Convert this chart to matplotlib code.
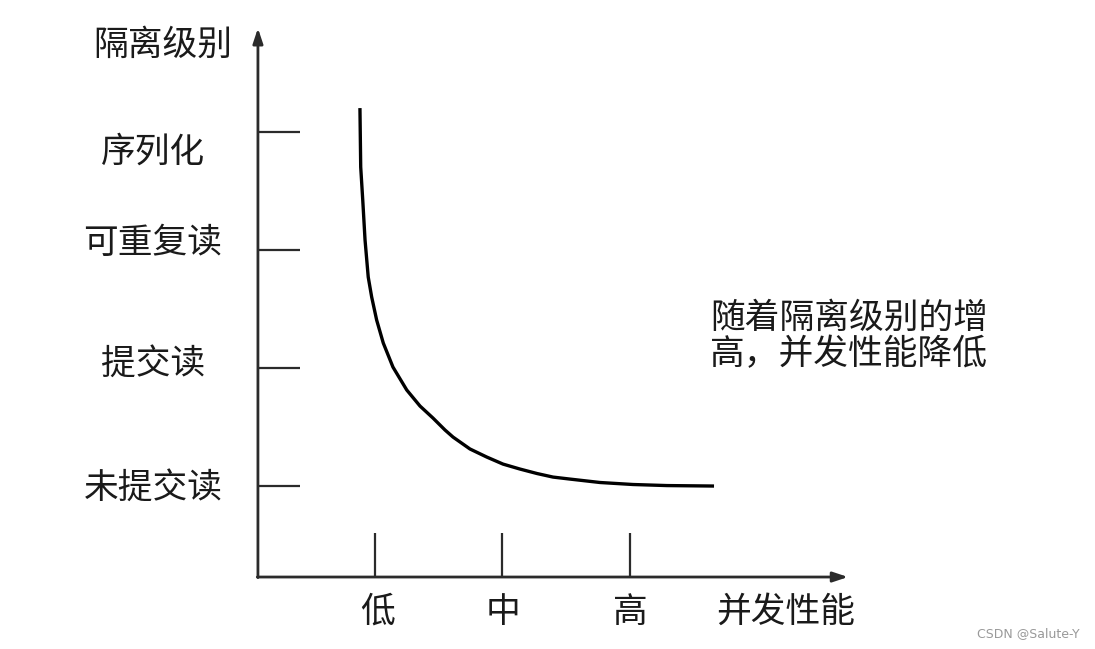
import matplotlib
matplotlib.use('Agg')
import matplotlib.pyplot as plt
import numpy as np

plt.rcParams['font.family'] = ['Noto Sans CJK SC', 'DejaVu Sans']

# ==================== 数据 ====================
# 横轴：并发性能（低=1, 中=2, 高=3）；纵轴：隔离级别（未提交读=1 ... 序列化=4）
x_levels = [1, 2, 3]
x_labels = ['低', '中', '高']
y_levels = [1, 2, 3, 4]
y_labels = ['未提交读', '提交读', '可重复读', '序列化']

# 曲线（从图上读出的点）
curve_x = [0.882, 0.888, 0.904, 0.922, 0.947, 0.974, 1.013, 1.065, 1.141, 1.249,
           1.353, 1.455, 1.549, 1.612, 1.745, 1.876, 2.004, 2.137, 2.271, 2.396,
           2.529, 2.765, 3.024, 3.290, 3.659]
curve_y = [4.203, 3.703, 3.424, 3.085, 2.771, 2.602, 2.407, 2.212, 2.008, 1.814,
           1.678, 1.576, 1.475, 1.415, 1.314, 1.246, 1.186, 1.144, 1.106, 1.076,
           1.059, 1.030, 1.013, 1.004, 1.000]

note = '随着隔离级别的增\n高，并发性能降低'

# ==================== 绘图 ====================
fig = plt.figure(figsize=(10.95, 6.49), dpi=100)
ax = fig.add_axes([0, 0, 1, 1])
ax.set_xlim(-1.941, 6.647)
ax.set_ylim(-0.381, 5.119)
ax.axis('off')

axis_color = '#2b2b2b'
text_color = '#1a1a1a'
x0, y0 = 0.082, 0.229      # 坐标原点
x_end, y_end = 4.71, 4.88  # 箭头终点

# 坐标轴箭头
arrow = dict(arrowstyle='-|>,head_length=0.9,head_width=0.3', lw=2,
             color=axis_color, shrinkA=0, shrinkB=0)
ax.annotate('', xy=(x0, y_end), xytext=(x0, y0 - 0.005), arrowprops=arrow)
ax.annotate('', xy=(x_end, y0), xytext=(x0 - 0.005, y0), arrowprops=arrow)

# 刻度线（画在轴内侧）
for yv in y_levels:
    ax.plot([x0, 0.412], [yv, yv], color=axis_color, lw=1.6, solid_capstyle='butt')
for xv in x_levels:
    ax.plot([xv, xv], [y0, 0.602], color=axis_color, lw=1.6, solid_capstyle='butt')

# 曲线
ax.plot(curve_x, curve_y, color='black', lw=2.4, solid_capstyle='butt',
        solid_joinstyle='round')

# 文字
fs = 25
y_label_pos = [0.983, 2.034, 3.059, 3.831]
for lab, yp in zip(y_labels, y_label_pos):
    ax.text(-0.741, yp, lab, ha='center', va='center', fontsize=fs, color=text_color)
ax.text(-0.663, 4.737, '隔离级别', ha='center', va='center', fontsize=fs, color=text_color)

for lab, xv in zip(x_labels, [1.024, 2.004, 3.0]):
    ax.text(xv, -0.068, lab, ha='center', va='center', fontsize=fs, color=text_color)
ax.text(4.224, -0.068, '并发性能', ha='center', va='center', fontsize=fs, color=text_color)

ax.text(3.627, 2.27, note, ha='left', va='center', fontsize=fs, color=text_color,
        linespacing=1.05)

ax.text(6.529, -0.254, 'CSDN @Salute-Y', ha='right', va='center', fontsize=9,
        color='#999999', family=['DejaVu Sans'])

plt.savefig('out.png', dpi=100)
plt.close()
